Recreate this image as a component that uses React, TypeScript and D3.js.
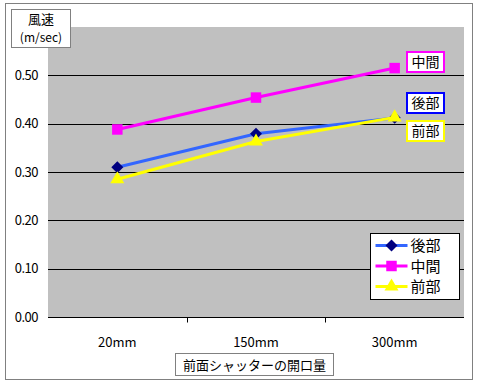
import React, { useEffect, useRef } from "react";
import * as d3 from "d3";

const categories = ["20mm", "150mm", "300mm"];
const seriesNames = ["後部", "中間", "前部"];
const rearValues = [0.31, 0.379, 0.412];
const middleValues = [0.388, 0.454, 0.515];
const frontValues = [0.285, 0.363, 0.413];
const yTicks = [0, 0.1, 0.2, 0.3, 0.4, 0.5];

const FONT = "'Noto Sans CJK JP', 'Noto Sans', sans-serif";

// equal-sided diamond (d3's symbolDiamond is taller than wide)
const squareDiamond = {
  draw(context: any, size: number) {
    const r = Math.sqrt(size / 2);
    context.moveTo(0, -r);
    context.lineTo(r, 0);
    context.lineTo(0, r);
    context.lineTo(-r, 0);
    context.closePath();
  },
};

const App = () => {
  const ref = useRef<SVGSVGElement>(null);

  useEffect(() => {
    const width = 480;
    const height = 386;
    const svg = d3.select(ref.current);
    svg.selectAll("*").remove();
    svg.attr("width", width).attr("height", height).style("font-family", FONT);

    // outer frame
    svg.append("rect").attr("x", 5.5).attr("y", 3.5).attr("width", 467).attr("height", 376)
      .attr("fill", "#fff").attr("stroke", "#808080");

    const plot = { left: 48, right: 464, top: 27, bottom: 317 };

    const x = d3.scaleBand().domain(categories).range([plot.left, plot.right]);
    const y = d3.scaleLinear().domain([0, 0.6]).range([plot.bottom, plot.top]);

    svg.append("rect").attr("x", plot.left).attr("y", plot.top)
      .attr("width", plot.right - plot.left).attr("height", plot.bottom - plot.top)
      .attr("fill", "#c0c0c0");

    // gridlines
    svg.append("g").selectAll("line").data(yTicks.slice(1)).join("line")
      .attr("x1", plot.left).attr("x2", plot.right)
      .attr("y1", (d) => Math.round(y(d)) + 0.5).attr("y2", (d) => Math.round(y(d)) + 0.5)
      .attr("stroke", "#000");

    // x axis
    const xAxis = svg.append("g").attr("transform", `translate(0,${plot.bottom + 0.5})`);
    xAxis.append("line").attr("x1", plot.left).attr("x2", plot.right).attr("stroke", "#000");
    xAxis.selectAll("line.tk").data(categories.slice(1)).join("line").attr("class", "tk")
      .attr("x1", (d) => Math.round(x(d)!) + 0.5).attr("x2", (d) => Math.round(x(d)!) + 0.5)
      .attr("y1", 0).attr("y2", 5).attr("stroke", "#000");
    xAxis.selectAll("text").data(categories).join("text")
      .attr("x", (d) => x(d)! + x.bandwidth() / 2).attr("y", 29)
      .attr("text-anchor", "middle").attr("font-size", 13).text((d) => d);

    // y labels
    svg.append("g").selectAll("text").data(yTicks).join("text")
      .attr("x", 38).attr("y", (d) => y(d) + 4.5).attr("text-anchor", "end")
      .attr("font-size", 13).attr("letter-spacing", -0.5).text((d) => d.toFixed(2));

    // y title box
    svg.append("rect").attr("x", 11.5).attr("y", 9.5).attr("width", 59).attr("height", 38)
      .attr("fill", "#fff").attr("stroke", "#808080");
    svg.append("text").attr("x", 41).attr("y", 24).attr("text-anchor", "middle")
      .attr("font-size", 13).text("風速");
    svg.append("text").attr("x", 41).attr("y", 42).attr("text-anchor", "middle")
      .attr("font-size", 12).text("(m/sec)");

    // x title box
    svg.append("rect").attr("x", 175.5).attr("y", 353.5).attr("width", 158).attr("height", 22)
      .attr("fill", "#fff").attr("stroke", "#808080");
    svg.append("text").attr("x", 254.5).attr("y", 369.5).attr("text-anchor", "middle")
      .attr("font-size", 13).text("前面シャッターの開口量");

    const series = [
      { name: seriesNames[0], values: rearValues, line: "#3366ff", fill: "#000080", marker: squareDiamond, size: 72 },
      { name: seriesNames[1], values: middleValues, line: "#ff00ff", fill: "#ff00ff", marker: d3.symbolSquare, size: 110 },
      { name: seriesNames[2], values: frontValues, line: "#ffff00", fill: "#ffff00", marker: d3.symbolTriangle, size: 85 },
    ];

    const cx = (c: string) => x(c)! + x.bandwidth() / 2;
    const line = d3.line<number>().x((_, i) => cx(categories[i])).y((d) => y(d));

    series.forEach((s) => {
      svg.append("path").attr("d", line(s.values)).attr("fill", "none")
        .attr("stroke", s.line).attr("stroke-width", 3);
      svg.append("g").selectAll("path").data(s.values).join("path")
        .attr("transform", (d, i) => `translate(${cx(categories[i])},${y(d)})`)
        .attr("d", d3.symbol().type(s.marker as any).size(s.size)())
        .attr("fill", s.fill);
    });

    // end labels
    const endLabels = [
      { name: seriesNames[1], color: "#ff00ff", y: 52 },
      { name: seriesNames[0], color: "#0000ff", y: 93 },
      { name: seriesNames[2], color: "#ffff00", y: 121 },
    ];
    endLabels.forEach((l) => {
      svg.append("rect").attr("x", 407).attr("y", l.y).attr("width", 37).attr("height", 20)
        .attr("fill", "#fff").attr("stroke", l.color).attr("stroke-width", 2);
      svg.append("text").attr("x", 425.5).attr("y", l.y + 15).attr("text-anchor", "middle")
        .attr("font-size", 14).text(l.name);
    });

    // legend
    const lg = svg.append("g").attr("transform", "translate(370.5,233.5)");
    lg.append("rect").attr("width", 89).attr("height", 66).attr("fill", "#fff").attr("stroke", "#000");
    series.forEach((s, i) => {
      const ly = 12 + i * 20.5;
      lg.append("line").attr("x1", 5).attr("x2", 37).attr("y1", ly).attr("y2", ly)
        .attr("stroke", s.line).attr("stroke-width", 3);
      lg.append("path").attr("transform", `translate(21,${ly})`)
        .attr("d", d3.symbol().type(s.marker as any).size(s.size)()).attr("fill", s.fill);
      lg.append("text").attr("x", 40).attr("y", ly + 5.5).attr("font-size", 15).text(s.name);
    });
  }, []);

  return (
    <div>
      <svg ref={ref} style={{ position: "absolute", left: 0, top: 0 }}></svg>
    </div>
  );
};

export default App;
